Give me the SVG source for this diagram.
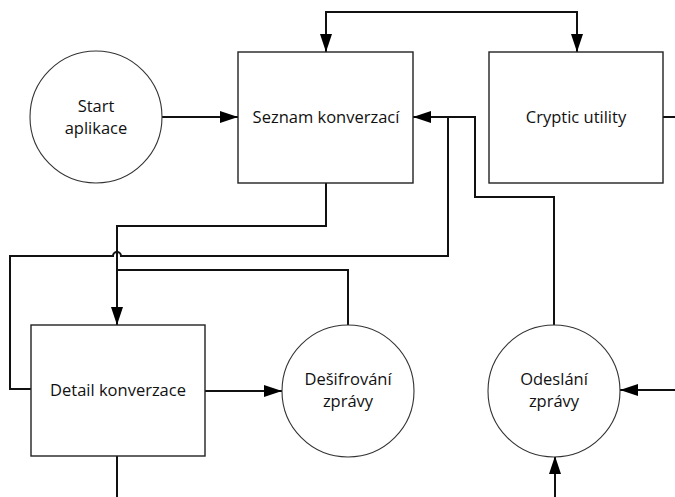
<svg xmlns="http://www.w3.org/2000/svg" width="675" height="497" viewBox="0 0 675 497">
  <style>
    .box { fill: #fff; stroke: #222; stroke-width: 1.4; }
    .proc { fill: #fff; stroke: #333; stroke-width: 1.1; }
    .wire { fill: none; stroke: #111; stroke-width: 2; stroke-linejoin: miter; }
    .label { font-family: "Segoe UI", "Open Sans", "Noto Sans", sans-serif; font-size: 16.5px; fill: #111; text-anchor: middle; }
  </style>
  <defs>
    <marker id="arrow" viewBox="0 0 18 12" refX="18" refY="6" markerWidth="18" markerHeight="12" markerUnits="userSpaceOnUse" orient="auto">
      <path d="M0,0 L18,6 L0,12 Z" fill="#000"/>
    </marker>
  </defs>

  <g id="connectors">
    <!-- Seznam <-> Cryptic utility over the top -->
    <path class="wire" d="M326,33 V12 H577 V33"/>
    <path class="wire" d="M326,30 V52" marker-end="url(#arrow)"/>
    <path class="wire" d="M577,30 V52" marker-end="url(#arrow)"/>
    <!-- Start aplikace -> Seznam -->
    <path class="wire" d="M162,117 H238" marker-end="url(#arrow)"/>
    <!-- Cryptic utility exit to the right -->
    <path class="wire" d="M663,117 H675"/>
    <!-- Seznam -> Detail konverzace -->
    <path class="wire" d="M326,183 V226 H117 V325" marker-end="url(#arrow)"/>
    <!-- Odeslání -> Seznam -->
    <path class="wire" d="M554,325 V197 H475 V117 H413" marker-end="url(#arrow)"/>
    <!-- Detail konverzace -> Seznam (with hop over the vertical wire) -->
    <path class="wire" d="M31,389 H10 V256 H113 A4,4 0 0 1 121,256 H448 V117"/>
    <!-- Dešifrování -> back into the Detail feed -->
    <path class="wire" d="M348,325 V270 H117"/>
    <!-- Detail konverzace -> Dešifrování -->
    <path class="wire" d="M205,391 H282" marker-end="url(#arrow)"/>
    <!-- Detail konverzace exit downward -->
    <path class="wire" d="M117,456 V497"/>
    <!-- Incoming to Odeslání -->
    <path class="wire" d="M675,390 H620" marker-end="url(#arrow)"/>
    <path class="wire" d="M555,497 V456" marker-end="url(#arrow)"/>
  </g>

  <g id="start-aplikace">
    <circle class="proc" cx="96" cy="117" r="66"/>
    <text class="label" x="96" y="112">Start</text>
    <text class="label" x="96" y="134">aplikace</text>
  </g>

  <g id="seznam-konverzaci">
    <rect class="box" x="238" y="52" width="175" height="131"/>
    <text class="label" x="326" y="123">Seznam konverzací</text>
  </g>

  <g id="cryptic-utility">
    <rect class="box" x="489" y="52" width="174" height="131"/>
    <text class="label" x="576" y="123">Cryptic utility</text>
  </g>

  <g id="detail-konverzace">
    <rect class="box" x="31" y="325" width="174" height="131"/>
    <text class="label" x="118" y="396">Detail konverzace</text>
  </g>

  <g id="desifrovani-zpravy">
    <circle class="proc" cx="348" cy="391" r="66"/>
    <text class="label" x="348" y="385">Dešifrování</text>
    <text class="label" x="348" y="407">zprávy</text>
  </g>

  <g id="odeslani-zpravy">
    <circle class="proc" cx="554" cy="391" r="66"/>
    <text class="label" x="554" y="385">Odeslání</text>
    <text class="label" x="554" y="407">zprávy</text>
  </g>
</svg>
